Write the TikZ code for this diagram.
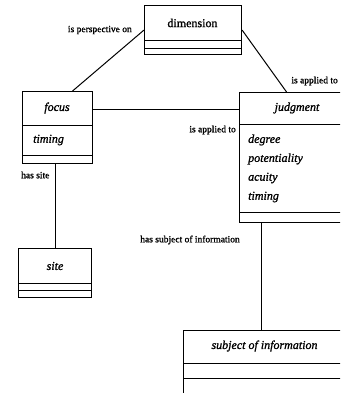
\documentclass[tikz,border=0pt]{standalone}
\usepackage{fontspec}
\setmainfont{Liberation Serif}
\newfontfamily\scanfont[FakeBold=1.2]{Liberation Serif}
\usetikzlibrary{calc}

\tikzset{
  umlbox/.style={draw, line width=1.1pt, anchor=north west, inner sep=0pt},
  title/.style={font=\fontsize{12}{14}\scanfont\itshape},
  attr/.style={font=\fontsize{12}{14}\scanfont\itshape, anchor=west, inner sep=0pt},
  rel/.style={font=\fontsize{9.5}{11}\scanfont, inner sep=0pt},
  link/.style={line width=1pt}
}

\begin{document}
\begin{tikzpicture}[x=1pt, y=-1pt]
  \path[use as bounding box] (0,0) rectangle (340,393);
  \clip (0,0) rectangle (340,393);

  % class boxes
  \node[umlbox, minimum width=97pt, minimum height=49pt] (dimension) at (144,5) {};
  \node[umlbox, minimum width=70pt, minimum height=72pt] (focus) at (22,91) {};
  \node[umlbox, minimum width=111pt, minimum height=130pt] (judgment) at (239,92) {};
  \node[umlbox, minimum width=73pt, minimum height=49pt] (site) at (18,248) {};
  \node[umlbox, minimum width=167pt, minimum height=75pt] (subject) at (183,330) {};

  % compartments
  \draw (144,40) -- (241,40);
  \draw (144,48) -- (241,48);
  \draw (22,125) -- (92,125);
  \draw (22,155) -- (92,155);
  \draw (239,124) -- (350,124);
  \draw (239,212) -- (350,212);
  \draw (18,283) -- (91,283);
  \draw (18,290) -- (91,290);
  \draw (183,363) -- (350,363);
  \draw (183,378) -- (350,378);

  % class names
  \node[title, font=\fontsize{12}{14}\scanfont] (dimension-name) at (192.5,23) {dimension};
  \node[title] (focus-name) at (57,108) {focus};
  \node[title] (judgment-name) at (297,108) {judgment};
  \node[title] (site-name) at (55,266) {site};
  \node[title] (subject-name) at (264.5,346) {subject of information};

  % attributes
  \node[attr] (focus-timing) at (33,140) {timing};
  \node[attr] (degree) at (248,140) {degree};
  \node[attr] (potentiality) at (248,159) {potentiality};
  \node[attr] (acuity) at (248,178) {acuity};
  \node[attr] (judgment-timing) at (248,197) {timing};

  % associations
  \draw[link] (dimension.west) -- ($(focus.north)+(15,0)$);
  \draw[link] (dimension.east) -- ($(judgment.north)+(-8.5,0)$);
  \draw[link] ($(focus.north east)+(0,19)$) -- ($(judgment.north west)+(0,18)$);
  \draw[link] (site.north) -- (site.north |- focus.south);
  \coordinate (js) at ($(judgment.south west)+(22,0)$);
  \draw[link] (js) -- (js |- subject.north);

  % association labels
  \node[rel, anchor=east] (perspective-on) at (132,30) {is perspective on};
  \node[rel, anchor=east] (applied-dim) at (338,81) {is applied to};
  \node[rel, anchor=east] (applied-focus) at (236,130) {is applied to};
  \node[rel, anchor=west] (has-site) at (21,175) {has site};
  \node[rel] (has-subject) at (190,240) {has subject of information};
\end{tikzpicture}
\end{document}
